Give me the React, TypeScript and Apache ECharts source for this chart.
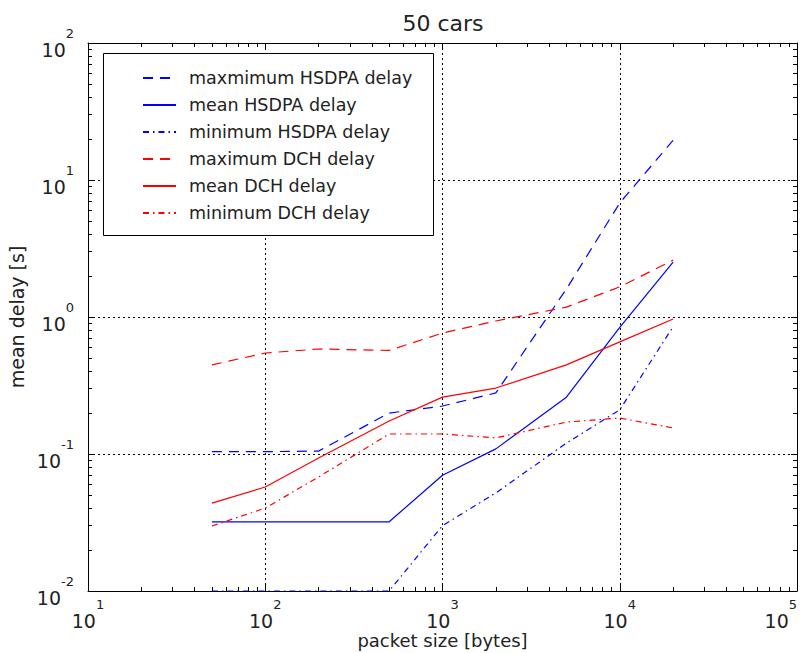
import React, { useEffect, useRef } from "react";
import * as echarts from "echarts";

const FONT = "DejaVu Sans";

const packetSizes = [50, 100, 200, 500, 1000, 2000, 5000, 10000, 20000];
const maxHsdpa = [0.104, 0.104, 0.105, 0.199, 0.224, 0.279, 1.6, 6.8, 19.5];
const meanHsdpa = [0.032, 0.032, 0.032, 0.032, 0.07, 0.109, 0.26, 0.84, 2.52];
const minHsdpa = [0.01, 0.01, 0.01, 0.01, 0.03, 0.052, 0.12, 0.21, 0.85];
const maxDch = [0.447, 0.546, 0.584, 0.57, 0.764, 0.935, 1.18, 1.66, 2.6];
const meanDch = [0.0438, 0.0574, 0.0935, 0.174, 0.26, 0.303, 0.447, 0.658, 0.966];
const minDch = [0.0298, 0.0403, 0.068, 0.14, 0.14, 0.131, 0.171, 0.183, 0.155];

const seriesNames = [
  "maxmimum HSDPA delay",
  "mean HSDPA delay",
  "minimum HSDPA delay",
  "maximum DCH delay",
  "mean DCH delay",
  "minimum DCH delay",
];
const seriesValues = [maxHsdpa, meanHsdpa, minHsdpa, maxDch, meanDch, minDch];
const seriesColors = ["#0000ff", "#0000ff", "#0000ff", "#ff0000", "#ff0000", "#ff0000"];
const DASH = [10, 7];
const DASHDOT = [6, 4, 1.5, 4];
const seriesDash: any[] = [DASH, "solid", DASHDOT, DASH, "solid", DASHDOT];

const titleText = "50 cars";
const xName = "packet size [bytes]";
const yName = "mean delay [s]";

const rich = {
  b: { fontSize: 19, lineHeight: 32, padding: [14, 0, 0, 0], color: "#222", fontFamily: FONT },
  e: { fontSize: 13, lineHeight: 32, padding: [0, 0, 20, 0], color: "#222", fontFamily: FONT },
};
const powLabel = (v: number) => `{b|10}{e|${Math.round(Math.log10(v))}}`;

function makeAxis(kind: "x" | "y", main: boolean): any {
  const isX = kind === "x";
  return {
    type: "log",
    logBase: 10,
    min: isX ? 10 : 0.01,
    max: isX ? 100000 : 100,
    position: isX ? (main ? "bottom" : "top") : main ? "left" : "right",
    axisLine: { show: true, onZero: false, lineStyle: { color: "#000", width: 1 } },
    axisTick: { show: true, inside: true, length: 6, lineStyle: { color: "#000" } },
    minorTick: { show: true, splitNumber: 9, length: 4, lineStyle: { color: "#000" } },
    splitLine: main
      ? { show: true, lineStyle: { color: "#000", type: [2, 3], width: 1 } }
      : { show: false },
    minorSplitLine: { show: false },
    axisLabel: main
      ? {
          show: true,
          formatter: powLabel,
          rich,
          margin: isX ? 7 : 14,
          alignMaxLabel: isX ? "right" : undefined,
        }
      : { show: false },
    name: main ? (isX ? xName : yName) : "",
    nameLocation: "middle",
    nameGap: isX ? 39 : 62,
    nameMoveOverlap: false,
    nameTextStyle: { fontSize: isX ? 18 : 19, lineHeight: isX ? 20 : undefined, color: "#222", fontFamily: FONT },
  };
}

export default function App() {
  const ref = useRef<HTMLDivElement>(null);
  useEffect(() => {
    if (!ref.current) return;
    const chart = echarts.init(ref.current, undefined, { renderer: "svg" });
    chart.setOption({
      animation: false,
      backgroundColor: "#fff",
      textStyle: { fontFamily: FONT },
      title: {
        text: titleText,
        left: 438,
        top: 7,
        textAlign: "center",
        textStyle: { fontSize: 22, fontWeight: "normal", color: "#222", fontFamily: FONT },
      },
      grid: { left: 88, right: 9, top: 43, bottom: 62, containLabel: false, outerBoundsMode: "none" },
      xAxis: [makeAxis("x", true), makeAxis("x", false)],
      yAxis: [makeAxis("y", true), makeAxis("y", false)],
      legend: {
        data: seriesNames,
        orient: "vertical",
        left: 137,
        top: 63,
        itemWidth: 33,
        itemHeight: 14,
        itemGap: 7,
        z: 60,
        itemStyle: { opacity: 0 },
        textStyle: { fontSize: 17.5, color: "#222", fontFamily: FONT, padding: [0, 0, 0, 8], lineHeight: 20 },
      },
      graphic: [
        {
          type: "rect",
          z: 50,
          shape: { x: 103.5, y: 53.5, width: 330, height: 182 },
          style: { fill: "#fff", stroke: "#000", lineWidth: 1 },
        },
      ],
      series: seriesNames.map((name, i) => ({
        name,
        type: "line",
        xAxisIndex: 0,
        yAxisIndex: 0,
        symbol: "none",
        clip: true,
        data: packetSizes.map((x, j) => [x, seriesValues[i][j]]),
        lineStyle: { color: seriesColors[i], width: 1.2, type: seriesDash[i] },
        itemStyle: { color: seriesColors[i] },
      })),
    });
    return () => chart.dispose();
  }, []);
  return (
    <div
      ref={ref}
      style={{ position: "fixed", left: 0, top: 0, width: 806, height: 653 }}
    />
  );
}
